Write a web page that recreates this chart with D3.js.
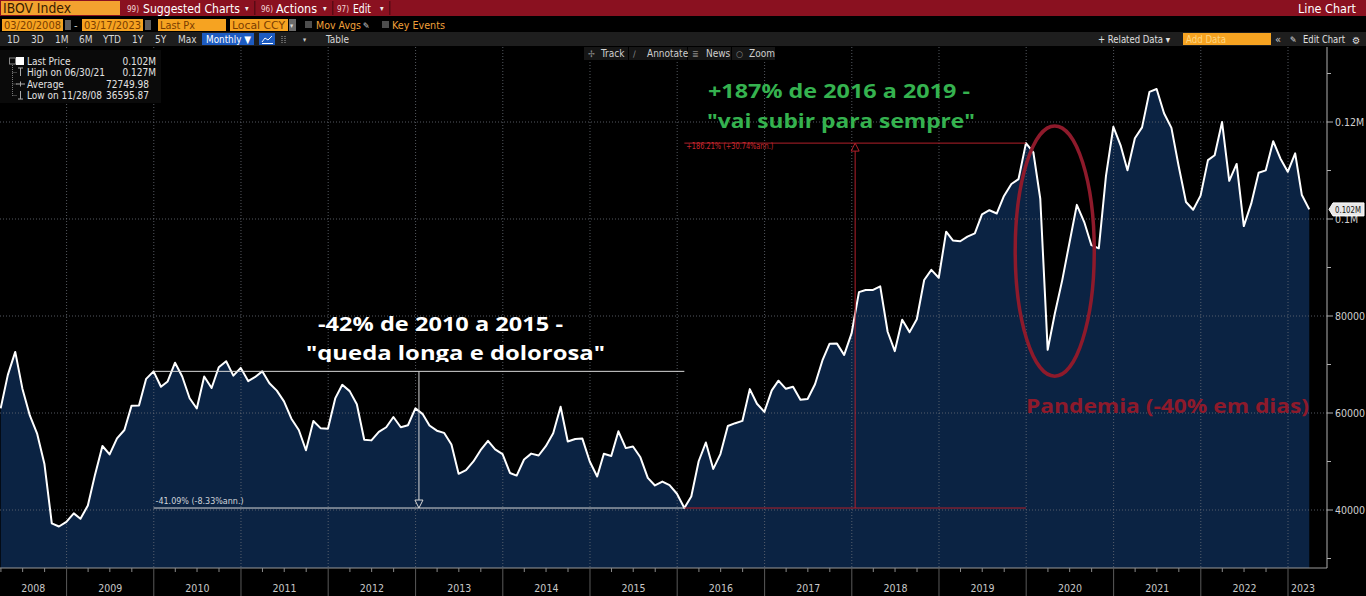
<!DOCTYPE html>
<html><head><meta charset="utf-8">
<script src="https://cdn.jsdelivr.net/npm/d3@7"></script>
<style>
html,body{margin:0;padding:0;background:#000;overflow:hidden}
svg{display:block}
text{font-family:"Liberation Sans Narrow","DejaVu Sans Condensed","Liberation Sans",sans-serif}
</style></head><body>
<svg id="c" width="1366" height="596"></svg>
<script>
// ---------------- DATA ----------------
const firstMonth = [2008, 3];           // first monthly close: March 2008
const closes = [
  60968, 67868, 72593, 65017, 59505, 55680, 49541, 37256, 36596, 37550,
  39301, 38183, 40926, 47290, 53198, 51465, 54766, 56489, 61518, 61546, 67044, 68588,
  65402, 66503, 70372, 67530, 63047, 60936, 67515, 65145, 69430, 70673, 67705, 69305,
  66575, 67383, 68587, 66133, 64620, 62404, 58823, 56495, 52324, 58338, 56875, 56754,
  63072, 65812, 64511, 61820, 54490, 54355, 56097, 57061, 59175, 57068, 57475, 60952,
  59761, 57424, 56352, 55910, 53506, 47457, 48234, 50008, 52338, 54256, 52482, 51507,
  47639, 47094, 50415, 51627, 51239, 53168, 55829, 61288, 54116, 54629, 54724, 50007,
  46908, 51583, 51150, 56229, 52760, 53081, 50865, 46626, 45059, 45868, 45120, 43350,
  40406, 42793, 50055, 53911, 48471, 51527, 57308, 57901, 58367, 64925, 61906, 60227,
  64671, 66662, 64984, 65403, 62711, 62900, 65920, 70835, 74294, 74308, 71971, 76402,
  84913, 85354, 85366, 86115, 76754, 72763, 79220, 76678, 79342, 87424, 89504, 87887,
  97394, 95584, 95415, 96353, 97030, 100967, 101812, 101135, 104745, 107220, 108233, 115645,
  113761, 104172, 73020, 80506, 87403, 95056, 102912, 99369, 94603, 93952, 108893, 119017,
  115068, 110035, 116634, 118894, 126216, 126802, 121801, 118781, 110979, 103501, 101915, 104822,
  112143, 113142, 119999, 107876, 111351, 98542, 103165, 109523, 110037, 116037, 112486, 109735,
  113532, 104932, 101981
];
const yearLabels = ["2008","2009","2010","2011","2012","2013","2014","2015","2016","2017","2018","2019","2020","2021","2022","2023"];
const yMajorTicks = [40000, 60000, 80000, 100000, 120000];
const yMajorLabels = ["40000", "60000", "80000", "0.1M", "0.12M"];
const yMinorTicks = [30000, 50000, 70000, 90000, 110000, 130000];
const legendNames = ["Last Price", "High on 06/30/21", "Average", "Low on 11/28/08"];
const legendValues = ["0.102M", "0.127M", "72749.98", "36595.87"];
const lastPriceTag = "0.102M";
const dropMonths = ["2009-12", "2016-01"];
const dropLabel = "-41.09% (-8.33%ann.)";
const riseMonths = ["2016-01", "2019-12"];
const riseLabel = "+186.21% (+30.74%ann.)";
const pandemicDates = ["2019-11-16", "2020-10-12"];
const pandemicValues = [67600, 119200];
const whiteNote = ["-42% de 2010 a 2015 -", "\"queda longa e dolorosa\""];
const greenNote = ["+187% de 2016 a 2019 -", "\"vai subir para sempre\""];
const redNote = "Pandemia (-40% em dias)";

// ---------------- SETUP ----------------
const svg = d3.select("#c");
const W = 1366, H = 596;
const axisY = 568, axisX = 1327, plotTop = 47;
const x = d3.scaleTime().domain([new Date(2009,0,1), new Date(2023,0,1)]).range([66.6, 1288]);
const y = d3.scaleLinear().domain([40000, 120000]).range([510, 122]);

const data = closes.map((v, i) => ({date: new Date(firstMonth[0], firstMonth[1] - 1 + i + 1, 0), v}));
const byMonth = key => data.find(d => d3.timeFormat("%Y-%m")(d.date) === key);

function R(g, x0, y0, w, h, fill) { return g.append("rect").attr("x", x0).attr("y", y0).attr("width", w).attr("height", h).attr("fill", fill); }
function T(g, x0, y0, s, o = {}) {
  const t = g.append("text").attr("x", x0).attr("y", y0).text(s)
    .attr("font-size", o.size || 10).attr("fill", o.fill || "#ddd");
  if (o.anchor) t.attr("text-anchor", o.anchor);
  if (o.w) t.attr("textLength", o.w).attr("lengthAdjust", "spacingAndGlyphs");
  if (o.weight) t.attr("font-weight", o.weight);
  if (o.family) t.style("font-family", o.family);
  return t;
}

R(svg, 0, 0, W, H, "#000");

const defs = svg.append("defs");
defs.append("clipPath").attr("id", "plotclip").append("rect").attr("x", 0).attr("y", plotTop).attr("width", axisX).attr("height", axisY - plotTop);
defs.append("clipPath").attr("id", "clipWhite2").append("rect").attr("x", 0).attr("y", 0).attr("width", W).attr("height", 362);
defs.append("clipPath").attr("id", "clipGreen2").append("rect").attr("x", 0).attr("y", 0).attr("width", W).attr("height", 133);

const plot = svg.append("g").attr("clip-path", "url(#plotclip)");

// area
plot.append("path").datum(data)
  .attr("d", d3.area().x(d => x(d.date)).y0(axisY).y1(d => y(d.v)))
  .attr("fill", "#0b2343");

// gridlines
const yearStarts = d3.range(2009, 2024).map(yr => new Date(yr, 0, 1));
plot.append("g").selectAll("line").data(yearStarts).join("line")
  .attr("x1", d => x(d)).attr("x2", d => x(d)).attr("y1", plotTop).attr("y2", axisY)
  .attr("stroke", "#6a6f78").attr("stroke-width", 1).attr("stroke-dasharray", "1,2").attr("opacity", 0.8);
plot.append("g").selectAll("line").data(yMajorTicks).join("line")
  .attr("x1", 0).attr("x2", axisX).attr("y1", d => y(d)).attr("y2", d => y(d))
  .attr("stroke", "#6a6f78").attr("stroke-width", 1).attr("stroke-dasharray", "1,2").attr("opacity", 0.8);

// line
plot.append("path").datum(data)
  .attr("d", d3.line().x(d => x(d.date)).y(d => y(d.v)))
  .attr("fill", "none").attr("stroke", "#fff").attr("stroke-width", 2).attr("stroke-linejoin", "round");

// -------- measurement annotations --------
function measure(months, color, label, dir) {
  const a = byMonth(months[0]), b = byMonth(months[1]);
  const xa = x(a.date), xb = x(b.date), xm = (xa + xb) / 2;
  const hi = Math.max(a.v, b.v), lo = Math.min(a.v, b.v);
  const g = svg.append("g");
  g.append("line").attr("x1", xa).attr("x2", xb).attr("y1", y(hi)).attr("y2", y(hi)).attr("stroke", color).attr("stroke-width", 1);
  g.append("line").attr("x1", xa).attr("x2", xb).attr("y1", y(lo)).attr("y2", y(lo)).attr("stroke", color).attr("stroke-width", 1);
  if (dir === "down") {
    g.append("line").attr("x1", xm).attr("x2", xm).attr("y1", y(hi)).attr("y2", y(lo) - 8).attr("stroke", color).attr("stroke-width", 1);
    g.append("path").attr("d", `M${xm-4},${y(lo)-8}L${xm+4},${y(lo)-8}L${xm},${y(lo)}Z`).attr("fill", "none").attr("stroke", color);
    T(g, xa + 2, y(lo) - 4, label, {size: 8.5, fill: "#cfd3d8", w: 88});
  } else {
    g.append("line").attr("x1", xm).attr("x2", xm).attr("y1", y(lo)).attr("y2", y(hi) + 8).attr("stroke", color).attr("stroke-width", 1);
    g.append("path").attr("d", `M${xm-4},${y(hi)+8}L${xm+4},${y(hi)+8}L${xm},${y(hi)}Z`).attr("fill", "none").attr("stroke", color);
    T(g, xa + 2, y(hi) + 6, label, {size: 8, fill: "#c8282e", w: 87});
  }
}
measure(dropMonths, "#d8d8d8", dropLabel, "down");
measure(riseMonths, "#b3202a", riseLabel, "up");

// pandemic ellipse
{
  const x0 = x(new Date(pandemicDates[0])), x1 = x(new Date(pandemicDates[1]));
  const y0 = y(pandemicValues[1]), y1 = y(pandemicValues[0]);
  svg.append("ellipse").attr("cx", (x0 + x1) / 2).attr("cy", (y0 + y1) / 2)
    .attr("rx", (x1 - x0) / 2).attr("ry", (y1 - y0) / 2)
    .attr("fill", "none").attr("stroke", "#8e1a2b").attr("stroke-width", 3.5);
}

// text notes
const noteFont = '"Open Sans","Noto Sans",sans-serif';
T(svg, 318, 331, whiteNote[0], {size: 20, fill: "#fff", weight: 700, w: 245, family: noteFont});
T(svg, 306, 360, whiteNote[1], {size: 20, fill: "#fff", weight: 700, w: 299, family: noteFont}).attr("clip-path", "url(#clipWhite2)");
T(svg, 708, 98, greenNote[0], {size: 19.5, fill: "#35b24f", weight: 700, w: 262, family: noteFont});
T(svg, 707, 128, greenNote[1], {size: 19.5, fill: "#35b24f", weight: 700, w: 268, family: noteFont}).attr("clip-path", "url(#clipGreen2)");
T(svg, 1026, 413, redNote, {size: 20, fill: "#8e1a2b", weight: 700, w: 283, family: noteFont});

// -------- axes --------
const ax = svg.append("g");
ax.append("line").attr("x1", 0).attr("x2", axisX).attr("y1", axisY).attr("y2", axisY).attr("stroke", "#9a9a9a");
ax.append("line").attr("x1", axisX).attr("x2", axisX).attr("y1", plotTop).attr("y2", axisY).attr("stroke", "#b0b0b0");
ax.selectAll(".ysep").data(yearStarts).join("line")
  .attr("x1", d => x(d)).attr("x2", d => x(d)).attr("y1", axisY).attr("y2", H).attr("stroke", "#5a5a5a");
const quarters = d3.timeMonth.every(3).range(new Date(2008, 3, 1), new Date(2023, 3, 1)).filter(d => d.getMonth() !== 0);
ax.selectAll(".qt").data(quarters).join("line")
  .attr("x1", d => x(d)).attr("x2", d => x(d)).attr("y1", axisY).attr("y2", axisY + 4).attr("stroke", "#8a8a8a");
const yearCenters = yearLabels.map(s => {
  const yr = +s;
  const a = Math.max(0, x(new Date(yr, 0, 1)));
  const b = Math.min(axisX - 9, x(new Date(yr + 1, 0, 1)));
  return (a + b) / 2;
});
ax.selectAll(".yl").data(yearLabels).join("text")
  .attr("x", (d, i) => yearCenters[i]).attr("y", 592).attr("text-anchor", "middle")
  .attr("font-size", 10.5).attr("fill", "#c8c8c8").text(d => d);
ax.selectAll(".ymt").data(yMajorTicks).join("line")
  .attr("x1", axisX).attr("x2", axisX + 6).attr("y1", d => y(d)).attr("y2", d => y(d)).attr("stroke", "#b0b0b0");
ax.selectAll(".ymn").data(yMinorTicks).join("line")
  .attr("x1", axisX).attr("x2", axisX + 4).attr("y1", d => y(d)).attr("y2", d => y(d)).attr("stroke", "#b0b0b0");
ax.selectAll(".yl2").data(yMajorTicks).join("text")
  .attr("x", axisX + 8).attr("y", d => y(d) + 3.5).attr("font-size", 10.5).attr("fill", "#d0d0d0")
  .text((d, i) => yMajorLabels[i]);
// last price tag
{
  const ly = y(closes[closes.length - 1]);
  ax.append("path").attr("d", `M${axisX+2},${ly}L${axisX+6},${ly-6.5}L1364,${ly-6.5}L1364,${ly+6.5}L${axisX+6},${ly+6.5}Z`)
    .attr("fill", "#e8e8e8").attr("stroke", "#fff");
  T(ax, axisX + 8, ly + 3.5, lastPriceTag, {size: 9.5, fill: "#111", w: 26});
}

// -------- legend box --------
const lg = svg.append("g");
R(lg, 0, 50, 161, 53, "#0a0a0a");
lg.append("line").attr("x1", 12.5).attr("x2", 12.5).attr("y1", 65).attr("y2", 96).attr("stroke", "#777").attr("stroke-dasharray", "1,1");
lg.append("rect").attr("x", 9.5).attr("y", 58).attr("width", 6).attr("height", 6).attr("fill", "none").attr("stroke", "#888");
R(lg, 16, 57, 8, 8, "#fff");
const rowY = [64.5, 76, 87.5, 99];
[1, 2, 3].forEach(i => lg.append("line").attr("x1", 12.5).attr("x2", 17).attr("y1", rowY[i] - 3.5).attr("y2", rowY[i] - 3.5).attr("stroke", "#777").attr("stroke-dasharray", "1,1"));
lg.append("path").attr("d", `M18,${rowY[1]-8}h5M20.5,${rowY[1]-8}v8`).attr("stroke", "#aaa").attr("fill", "none");
lg.append("path").attr("d", `M16,${rowY[2]-3.5}h9M20.5,${rowY[2]-6}v5`).attr("stroke", "#aaa").attr("fill", "none");
lg.append("path").attr("d", `M20.5,${rowY[3]-8}v8M18,${rowY[3]}h5`).attr("stroke", "#aaa").attr("fill", "none");
legendNames.forEach((n, i) => T(lg, 27, rowY[i], n, {size: 10, fill: "#e2e2e2"}));
legendValues.forEach((v, i) => T(lg, i < 2 ? 156 : 149, rowY[i], v, {size: 10, fill: "#e2e2e2", anchor: "end"}));

// -------- top toolbar --------
const tb = svg.append("g");
R(tb, 0, 0, W, 16, "#8a1120");
R(tb, 1, 1, 119, 14, "#f3a22f");
T(tb, 3, 13, "IBOV Index", {size: 14, fill: "#3a1c00", w: 68});
T(tb, 127, 12, "99)", {size: 9.5, fill: "#f3d6d6", w: 12});
T(tb, 143, 12.5, "Suggested Charts", {size: 13, fill: "#fff", w: 97});
T(tb, 245, 11, "▾", {size: 8, fill: "#eee"});
R(tb, 254, 1, 1.5, 14, "#5a0a14");
T(tb, 261, 12, "96)", {size: 9.5, fill: "#f3d6d6", w: 12});
T(tb, 276, 12.5, "Actions", {size: 13, fill: "#fff", w: 41});
T(tb, 323, 11, "▾", {size: 8, fill: "#eee"});
R(tb, 332, 1, 1.5, 14, "#5a0a14");
T(tb, 337, 12, "97)", {size: 9.5, fill: "#f3d6d6", w: 12});
T(tb, 353, 12.5, "Edit", {size: 13, fill: "#fff", w: 18});
T(tb, 380, 11, "▾", {size: 8, fill: "#eee"});
R(tb, 389, 1, 1.5, 14, "#5a0a14");
T(tb, 1356, 12.5, "Line Chart", {size: 13, fill: "#fff", anchor: "end", w: 58});

// row 2
const ob = "#f6a321", ot = "#7a3d00";
R(tb, 2, 19, 61, 12, ob); T(tb, 4, 29, "03/20/2008", {size: 11, fill: ot, w: 57});
R(tb, 65, 20, 6, 10, "#5c5c5c");
T(tb, 74, 29, "-", {size: 11, fill: "#ccc"});
R(tb, 82, 19, 61, 12, ob); T(tb, 84, 29, "03/17/2023", {size: 11, fill: ot, w: 57});
R(tb, 145, 20, 6, 10, "#5c5c5c");
R(tb, 158, 19, 68, 12, ob); T(tb, 160, 29, "Last Px", {size: 11, fill: ot, w: 35});
R(tb, 230, 19, 58, 12, ob); T(tb, 232, 29, "Local CCY", {size: 11, fill: ot, w: 53});
R(tb, 289, 19, 7, 12, "#6a6a6a"); T(tb, 290, 28, "▾", {size: 7, fill: "#ddd"});
R(tb, 305, 21, 7, 7, "#4d4d4d");
T(tb, 316, 29, "Mov Avgs", {size: 11, fill: "#f0a03a", w: 45});
T(tb, 363, 29, "✎", {size: 9, fill: "#ccc"});
R(tb, 382, 21, 7, 7, "#4d4d4d");
T(tb, 392, 29, "Key Events", {size: 11, fill: "#f0a03a", w: 53});

// row 3
R(tb, 0, 32, W, 14, "#1e1e1e");
const periods = ["1D", "3D", "1M", "6M", "YTD", "1Y", "5Y", "Max"];
const periodX = [7, 31, 55, 79, 103, 132, 155, 178];
periods.forEach((p, i) => T(tb, periodX[i], 43, p, {size: 10, fill: "#d8d8d8"}));
R(tb, 202, 33, 52, 12, "#1d5bc0"); T(tb, 206, 43, "Monthly ▼", {size: 10, fill: "#fff", w: 45});
R(tb, 259, 33, 16, 12, "#1d5bc0");
tb.append("path").attr("d", "M262,42L265,38L268,40L272,36M262,43.5h11").attr("stroke", "#fff").attr("fill", "none").attr("stroke-width", 1);
tb.append("path").attr("d", "M282,36v8M285,36v8").attr("stroke", "#aaa").attr("stroke-dasharray", "1,1");
T(tb, 303, 42, "▾", {size: 7, fill: "#ccc"});
T(tb, 326, 43, "Table", {size: 10, fill: "#d8d8d8", w: 23});
T(tb, 1098, 43, "+ Related Data ▾", {size: 10, fill: "#e0e0e0", w: 72});
R(tb, 1183, 33, 88, 12, ob); T(tb, 1186, 43, "Add Data", {size: 10, fill: "#ffd680", w: 40});
T(tb, 1275, 43, "«", {size: 11, fill: "#ccc"});
T(tb, 1290, 43, "✎", {size: 9, fill: "#ddd"});
T(tb, 1303, 43, "Edit Chart", {size: 10, fill: "#e0e0e0", w: 42});
T(tb, 1352, 43.5, "⚙", {size: 10, fill: "#ddd"});

// row 4 buttons
const btnX = [584, 629, 688, 732], btnW = [44, 58, 43, 43];
const btnLab = ["Track", "Annotate", "News", "Zoom"], btnTx = [601, 647, 706, 749], btnIc = ["✢", "∕", "≣", "○"];
btnX.forEach((bx, i) => {
  R(tb, bx, 47, btnW[i], 13, "#161616");
  T(tb, bx + 4, 57, btnIc[i], {size: 9, fill: "#888"});
  T(tb, btnTx[i], 57, btnLab[i], {size: 10, fill: "#cfcfcf"});
});
</script>
</body></html>
